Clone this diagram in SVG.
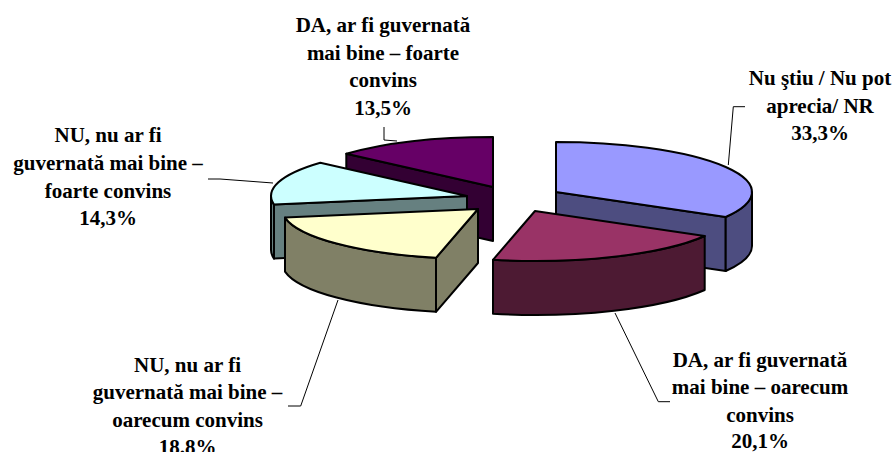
<svg xmlns="http://www.w3.org/2000/svg" width="895" height="452" viewBox="0 0 895 452">
<style>
  .f { stroke: #000; stroke-width: 2; stroke-linejoin: round; }
  .lbl { font-family: 'Liberation Serif', 'DejaVu Serif', serif; font-weight: 700; font-size: 21px; fill: #000; text-anchor: middle; }
  .lead { fill: none; stroke: #000; stroke-width: 1; }
</style>
<rect width="895" height="452" fill="#fff"/>

<!-- slice 5: DA foarte convins 13.5% -->
<g id="slice-da-foarte">
  <path class="f" fill="#330033" d="M493,187 L346.3,153.8 L346.3,207.8 L493,241 Z"/>
  <path class="f" fill="#660066" d="M493,187 L346.3,153.8 A196,50 0 0,1 493,137 Z"/>
  <g font-family="Liberation Serif, serif">
  <text class="lbl" x="383" y="32">DA, ar fi guvernată</text>
  <text class="lbl" x="383" y="59.5">mai bine – foarte</text>
  <text class="lbl" x="383" y="87">convins</text>
  <text class="lbl" x="383" y="114.5">13,5%</text>
  </g>
</g>

<!-- slice 4: NU foarte convins 14.3% -->
<g id="slice-nu-foarte">
  <path class="f" fill="#668080" d="M467,196 L274,204.6 L274,258.6 L467,250 Z"/>
  <path class="f" fill="#668080" d="M274,204.6 A196,50 0 0,1 271,196 L271,250 A196,50 0 0,0 274,258.6 Z"/>
  <path class="f" fill="#CCFFFF" d="M467,196 L274,204.6 A196,50 0 0,1 320.3,162.8 Z"/>
  <text class="lbl" x="108" y="142.3">NU, nu ar fi</text>
  <text class="lbl" x="108" y="170">guvernată mai bine –</text>
  <text class="lbl" x="108" y="197.5">foarte convins</text>
  <text class="lbl" x="108" y="225">14,3%</text>
</g>

<!-- slice 1: Nu stiu 33.3% -->
<g id="slice-nu-stiu">
  <path class="f" fill="#4D4D80" d="M556,192 L725.7,217 L725.7,271 L556,246 Z"/>
  <path class="f" fill="#4D4D80" d="M752,192 A196,50 0 0,1 725.7,217 L725.7,271 A196,50 0 0,0 752,246 Z"/>
  <path class="f" fill="#9999FF" d="M556,192 L556,142 A196,50 0 0,1 725.7,217 Z"/>
  <text class="lbl" x="820" y="85">Nu ştiu / Nu pot</text>
  <text class="lbl" x="820" y="112.6">aprecia/ NR</text>
  <text class="lbl" x="820" y="140.2">33,3%</text>
</g>

<!-- slice 3: NU oarecum convins 18.8% -->
<g id="slice-nu-oarecum">
  <path class="f" fill="#808066" d="M478,209 L436,257.8 L436,311.8 L478,263 Z"/>
  <path class="f" fill="#808066" d="M436,257.8 A196,50 0 0,1 285,217.6 L285,271.6 A196,50 0 0,0 436,311.8 Z"/>
  <path class="f" fill="#FFFFCC" d="M478,209 L436,257.8 A196,50 0 0,1 285,217.6 Z"/>
  <text class="lbl" x="187.5" y="371.5">NU, nu ar fi</text>
  <text class="lbl" x="187.5" y="399">guvernată mai bine –</text>
  <text class="lbl" x="187.5" y="426.5">oarecum convins</text>
  <text class="lbl" x="187.5" y="454">18.8%</text>
</g>

<!-- slice 2: DA oarecum convins 20.1% -->
<g id="slice-da-oarecum">
  <path class="f" fill="#4D1A33" d="M704.7,236 A196,50 0 0,1 493,259.8 L493,313.8 A196,50 0 0,0 704.7,290 Z"/>
  <path class="f" fill="#993366" d="M535,211 L704.7,236 A196,50 0 0,1 493,259.8 Z"/>
  <text class="lbl" x="760" y="366.7">DA, ar fi guvernată</text>
  <text class="lbl" x="760" y="394.3">mai bine – oarecum</text>
  <text class="lbl" x="760" y="421.7">convins</text>
  <text class="lbl" x="760" y="448.3">20,1%</text>
</g>

<g id="connectors">
  <polyline class="lead" points="384,127 384,140 397,141"/>
  <polyline class="lead" points="208,179 220,179 273,183"/>
  <polyline class="lead" points="745,106.7 733.3,106.7 728.3,165"/>
  <polyline class="lead" points="338,300 300.7,406 288,406"/>
  <polyline class="lead" points="615,313 658.3,401.7 670,401.7"/>
</g>
</svg>
